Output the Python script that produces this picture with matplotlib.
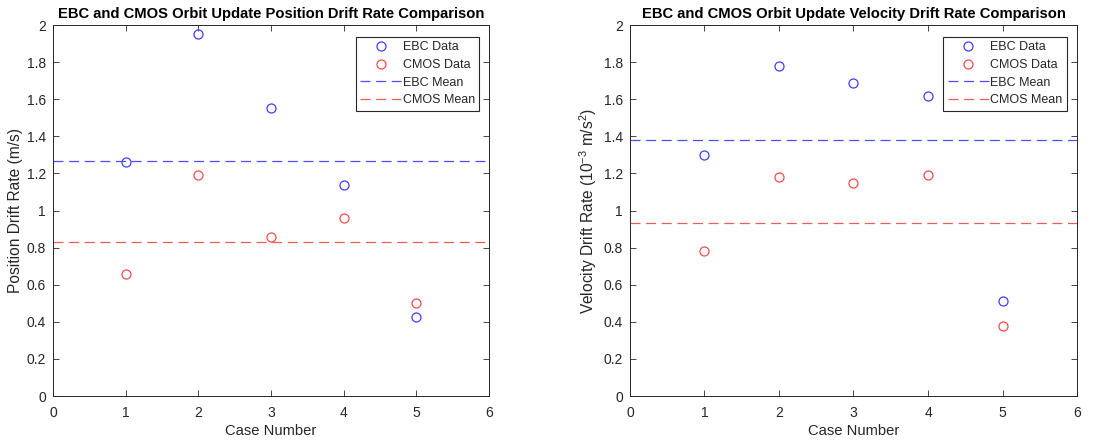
import numpy as np
import matplotlib
matplotlib.use('Agg')
import matplotlib.pyplot as plt

plt.rcParams['font.family'] = ['Liberation Sans', 'DejaVu Sans']
plt.rcParams['mathtext.default'] = 'regular'

cases = [1, 2, 3, 4, 5]
# position drift rate (m/s)
pos_ebc = [1.26, 1.95, 1.555, 1.14, 0.425]
pos_cmos = [0.66, 1.19, 0.855, 0.96, 0.50]
# velocity drift rate (1e-3 m/s^2)
vel_ebc = [1.30, 1.78, 1.69, 1.615, 0.51]
vel_cmos = [0.78, 1.18, 1.15, 1.19, 0.375]

titles = ['EBC and CMOS Orbit Update Position Drift Rate Comparison',
          'EBC and CMOS Orbit Update Velocity Drift Rate Comparison']
ylabels = ['Position Drift Rate (m/s)',
           'Velocity Drift Rate (10$^{-3}$ m/s$^2$)']
xticks = [0, 1, 2, 3, 4, 5, 6]
yticks = [0, 0.2, 0.4, 0.6, 0.8, 1, 1.2, 1.4, 1.6, 1.8, 2]
ytick_labels = ['0', '0.2', '0.4', '0.6', '0.8', '1', '1.2', '1.4', '1.6', '1.8', '2']

gray = (0.15, 0.15, 0.15)
fig = plt.figure(figsize=(11.07, 4.44), dpi=100)
rects = [[0.0479, 0.108, 0.394, 0.8356], [0.569, 0.108, 0.404, 0.8356]]
data = [(pos_ebc, pos_cmos), (vel_ebc, vel_cmos)]

for i in range(2):
    ax = fig.add_axes(rects[i])
    ebc, cmos = data[i]
    ax.plot(cases, ebc, 'o', mfc='none', mec=(0.25, 0.25, 1.0), ms=6.5, mew=0.9, label='EBC Data')
    ax.plot(cases, cmos, 'o', mfc='none', mec=(0.95, 0.3, 0.3), ms=6.5, mew=0.9, label='CMOS Data')
    ax.axhline(np.mean(ebc), color=(0.3, 0.3, 1.0), lw=0.9, dashes=(8, 4.5), label='EBC Mean')
    ax.axhline(np.mean(cmos), color=(0.95, 0.35, 0.35), lw=0.9, dashes=(8, 4.5), label='CMOS Mean')
    ax.set_xlim(0, 6)
    ax.set_ylim(0, 2)
    ax.set_xticks(xticks)
    ax.set_yticks(yticks)
    ax.set_yticklabels(ytick_labels)
    ax.tick_params(axis='x', pad=7)
    ax.tick_params(axis='y', pad=5)
    ax.tick_params(direction='in', top=True, right=True, labelsize=10, colors=gray,
                   length=4, width=0.6)
    for s in ax.spines.values():
        s.set_color(gray)
        s.set_linewidth(0.7)
    ax.set_title(titles[i], fontsize=10.6, fontweight='bold', pad=5)
    ax.set_xlabel('Case Number', fontsize=10.6, color=gray, labelpad=3)
    ax.set_ylabel(ylabels[i], fontsize=11.2, color=gray, labelpad=3)
    leg = ax.legend(loc='upper right', bbox_to_anchor=(0.977, 0.968), fontsize=9,
                    frameon=True, fancybox=False, framealpha=1, edgecolor=gray,
                    handlelength=3.3, labelspacing=0.45, borderpad=0.35, handletextpad=0.1,
                    borderaxespad=0)
    leg.get_frame().set_linewidth(0.8)
    for t in leg.get_texts():
        t.set_color(gray)

fig.savefig('out.png', dpi=100)
